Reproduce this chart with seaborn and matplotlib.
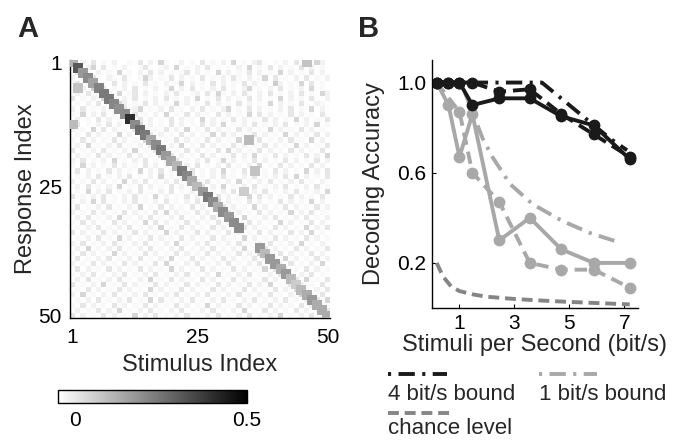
import numpy as np
import matplotlib
matplotlib.use("Agg")
import matplotlib.pyplot as plt
from matplotlib.lines import Line2D
import seaborn as sns

# ---------------- Panel A data ----------------
# diagonal (stimulus i -> response i) values; None = no diagonal entry
DIAG = [0.12, 0.31, 0.17, 0.20, 0.15, 0.22, 0.24, 0.24, 0.21, 0.19,
        0.20, 0.40, 0.20, 0.27, 0.24, 0.14, 0.20, 0.24, 0.17, 0.14,
        0.11, 0.24, 0.21, 0.13, 0.10, 0.17, 0.24, 0.20, 0.13, 0.20,
        0.17, 0.20, 0.20, None, None, None, 0.17, 0.10, 0.17, 0.17,
        0.13, 0.17, 0.10, 0.06, 0.10, 0.13, 0.17, 0.13, 0.13, 0.13]
# isolated off-diagonal responses (1-based response row, stimulus col)
EXTRA_ROWS = [1, 6, 13, 16, 22, 26]
EXTRA_COLS = [46, 2, 1, 35, 36, 34]
EXTRA_VALS = [0.08, 0.08, 0.10, 0.10, 0.08, 0.06]
# off-diagonal background: digit -> level
NOISE_LEVELS = [-0.05, -0.045, -0.035, -0.02, 0.005, 0.04, 0.06]
NOISE_ROWS = [
    "2031402130 0214031520 1302041203 0512034102 1304021530",
    "1203504120 3102410230 5021304120 2031502140 3120403120",
    "0412031205 1203041302 1240312051 3021403120 5130204130",
    "3120410320 4102530214 0312041203 1420312504 1203140213",
    "1402302140 3120412031 2503120413 0214031206 3021504120",
    "2130614021 3041203125 0314021304 1203512031 4021305120",
    "0314021305 1240312031 4102304152 0314203140 2130412053",
    "4021305120 3140213041 2031502140 3120413021 5031204103",
    "1203140215 3021403120 5130214031 2041302150 3120410321",
    "3041203120 4135021304 1203140213 5021403120 3140215031",
    "2150314021 3041203150 2140312041 3021504130 2140312041",
    "0312041302 1504130214 0312051302 1403120413 0215031204",
    "1402130413 0215031204 1302140315 0213041203 1402130512",
    "3120514031 2041302140 3150214031 2041302150 3120413021",
    "0214031205 1302140312 0413021504 1302140312 0513021403",
    "2041302140 3120513021 4031204130 2150314021 3041205130",
    "1305120314 0213041203 1502140312 0413021403 1205130214",
    "4021304120 3150214031 2041302140 5130214031 2041302140",
    "0312041302 1403120514 0312041302 1403150214 0312041305",
    "3140213051 2031402130 4120314025 1302140312 0413021403",
    "2051302140 3120413021 5031402130 4120315021 4031204130",
    "1403120413 0215031402 1304120315 0214031204 1302150314",
    "0213041203 1402130512 0314021304 1203140213 0415031204",
    "3120413021 5031402130 4120314021 3051203140 2130412031",
    "1304120315 0214031204 1302140315 0213041203 1402130412",
    "0215031402 1304120314 0213051203 1402130412 0314021305",
    "4120314021 3041205130 2140312041 3021504130 2140312041",
    "2031504120 3140213041 2031402150 3120413021 4031205130",
    "1402130412 0315021403 1204130214 0312051302 1403120413",
    "3120413021 4031204150 3120413021 4031204130 2150314021",
    "0314021305 1203140213 0412031402 1305120314 0213041203",
    "2140312041 3021504130 2140312041 3021403120 5130214031",
    "1203140213 0412031502 1403120413 0214031204 1302150314",
    "4031204130 2140312051 3021403120 4130214031 2041305120",
    "0213041205 1302140312 0413021403 1205130214 0312041302",
    "3140213041 2031402130 5120314021 3041203140 2130512031",
    "1305120314 0213041203 1402130412 0315021403 1204130214",
    "2041302150 3120413021 4031204130 2140315021 4031204130",
    "0412031402 1304120315 0214031204 1302140312 0513021403",
    "3021403120 4130214051 2031402130 4120314021 3041203150",
    "1403120413 0214031205 1302140312 0413021504 1302140312",
    "2130412031 4021304120 3140213051 2031402130 4120314021",
    "0314021304 1203150214 0312041302 1403120413 0214051204",
    "4120315021 4031204130 2140312041 3021403150 2140312041",
    "1204130214 0312051302 1403120413 0214031204 1305120314",
    "3051203140 2130412031 4021304120 3140213041 2031502140",
    "0213041203 1402150412 0314021304 1203140213 0412031405",
    "2140312041 3021403120 4130215031 2041302140 3120413021",
    "1302140315 0213041203 1402130412 0315021403 1204130214",
    "4031204130 2150314021 3041203140 2130412031 5021304120",
]
A_TICKS = ["1", "25", "50"]
CBAR_TICKS = [0, 0.5]
CBAR_TICKLABELS = ["0", "0.5"]

# ---------------- Panel B data ----------------
X_RATES = [0.17, 0.6, 1.0, 1.47, 2.45, 3.56, 4.71, 5.89, 7.2]
BLACK_SOLID = [1.0, 1.0, 1.0, 0.90, 0.93, 0.93, 0.85, 0.81, 0.66]
BLACK_DASHED = [1.0, 1.0, 1.0, 1.0, 0.96, 0.97, 0.86, 0.77, 0.67]
GRAY_SOLID = [1.0, 0.90, 0.67, 0.86, 0.30, 0.40, 0.26, 0.20, 0.20]
X_GRAY_DASHED = [0.17, 1.0, 1.47, 2.45, 3.56, 4.71, 5.89, 7.2]
GRAY_DASHED = [1.0, 0.87, 0.60, 0.47, 0.20, 0.17, 0.17, 0.09]
X_BOUND4 = [0.2, 1.0, 2.0, 3.0, 4.0, 4.5, 5.0, 5.5, 6.0, 6.5, 7.1]
BOUND4 = [1.0, 1.0, 1.0, 1.0, 1.0, 0.95, 0.90, 0.85, 0.80, 0.75, 0.70]
X_BOUND1 = [0.2, 0.6, 1.0, 1.25, 1.5, 1.85, 2.2, 2.84, 3.67, 4.76, 5.75, 6.84]
BOUND1 = [1.0, 1.0, 1.0, 0.94, 0.86, 0.75, 0.67, 0.55, 0.46, 0.385, 0.333, 0.29]
X_CHANCE = [0.17, 0.4, 0.7, 1.0, 1.5, 2.0, 3.0, 4.0, 5.0, 6.0, 7.2]
CHANCE = [0.20, 0.14, 0.095, 0.075, 0.06, 0.05, 0.04, 0.033, 0.027, 0.022, 0.016]
B_XTICKS = [1, 3, 5, 7]
B_YTICKS = [0.2, 0.6, 1.0]
LEGEND_LABELS = ["4 bit/s bound", "1 bit/s bound", "chance level"]

# ---------------- style ----------------
sns.set_theme(style="white")
plt.rcParams["font.family"] = ["Liberation Sans", "DejaVu Sans"]
BLACK = "#1a1a1a"
LGRAY = "#a8a8a8"
MGRAY = "#858585"
DASHDOT = (0, (4.2, 1.9, 0.8, 1.9))
DASHDOT_LEG = (6.1, (4.2, 1.9, 0.8, 1.9))
DASHED = (0, (3.2, 1.8))
CHANCE_DASH = (0, (2.8, 1.5))
CMAP = "gray_r"
VMIN, VMAX = -0.05, 0.5

fig = plt.figure(figsize=(6.84, 4.40), dpi=100)

# ---------- Panel A ----------
n = len(NOISE_ROWS)
M = np.array([[NOISE_LEVELS[int(c)]
               for c in (r.replace(" ", "") + "0" * n)[:n]] for r in NOISE_ROWS])
diag_idx = [i for i, v in enumerate(DIAG) if v is not None]
diag_val = [DIAG[i] for i in diag_idx]
for i, v in zip(diag_idx, diag_val):
    M[i, i] = v
for r, c, v in zip(EXTRA_ROWS, EXTRA_COLS, EXTRA_VALS):
    M[r - 1, c - 1] = v

axA = fig.add_axes([70 / 684, 1 - 318 / 440, 260 / 684, 258 / 440])
cax = fig.add_axes([58 / 684, 1 - 403 / 440, 189 / 684, 13 / 440])
sns.heatmap(M, ax=axA, cmap=CMAP, vmin=VMIN, vmax=VMAX, cbar_ax=cax,
            cbar_kws={"orientation": "horizontal", "ticks": CBAR_TICKS},
            xticklabels=False, yticklabels=False)
# strong entries appear as enlarged blocks in the original rendering
sq_x = [i + 0.5 for i in diag_idx] + [c - 0.5 for c in EXTRA_COLS]
sq_y = [i + 0.5 for i in diag_idx] + [r - 0.5 for r in EXTRA_ROWS]
sq_v = diag_val + EXTRA_VALS
sns.scatterplot(x=sq_x, y=sq_y, hue=sq_v, palette=CMAP, hue_norm=(VMIN, VMAX),
                marker="s", s=50, linewidth=0, legend=False, ax=axA, zorder=3)
axA.set_xlim(0, n)
axA.set_ylim(n, 0)
axA.set_xticks([0.5, n / 2 - 0.5, n - 0.5])
axA.set_xticklabels(A_TICKS)
axA.set_yticks([0.5, n / 2 - 0.5, n - 0.5])
axA.set_yticklabels(A_TICKS, rotation=0)
axA.tick_params(direction="in", length=3, width=0.8, labelsize=15,
                bottom=True, left=True, colors="black")
axA.tick_params(axis="x", pad=7)
axA.tick_params(axis="y", pad=6)
for s in ["left", "bottom"]:
    axA.spines[s].set_visible(True)
    axA.spines[s].set_color("black")
    axA.spines[s].set_linewidth(1.0)
for s in ["top", "right"]:
    axA.spines[s].set_visible(False)
axA.set_xlabel("Stimulus Index", fontsize=17, labelpad=5, visible=True)
axA.set_ylabel("Response Index", fontsize=17, labelpad=1, visible=True)

cbar = axA.collections[0].colorbar
cbar.set_ticks(CBAR_TICKS)
cbar.set_ticklabels(CBAR_TICKLABELS)
cbar.outline.set_edgecolor("black")
cbar.outline.set_linewidth(1.0)
cbar.ax.tick_params(direction="in", length=3, width=0.8, labelsize=15,
                    bottom=True, top=False, pad=6, colors="black")

# ---------- Panel B ----------
axB = fig.add_axes([432 / 684, 1 - 308 / 440, 206 / 684, 248 / 440])
lw = 2.8
ms = 8.5
sns.lineplot(x=X_CHANCE, y=CHANCE, ax=axB, color=MGRAY, lw=lw, linestyle=CHANCE_DASH)
sns.lineplot(x=X_BOUND1, y=BOUND1, ax=axB, color=LGRAY, lw=lw, linestyle=DASHDOT)
sns.lineplot(x=X_GRAY_DASHED, y=GRAY_DASHED, ax=axB, color=LGRAY, lw=lw,
             linestyle=DASHED, marker="o", markersize=ms, markeredgewidth=0)
sns.lineplot(x=X_RATES, y=GRAY_SOLID, ax=axB, color=LGRAY, lw=lw,
             marker="o", markersize=ms, markeredgewidth=0)
sns.lineplot(x=X_BOUND4, y=BOUND4, ax=axB, color=BLACK, lw=lw, linestyle=DASHDOT)
sns.lineplot(x=X_RATES, y=BLACK_DASHED, ax=axB, color=BLACK, lw=lw,
             linestyle=DASHED, marker="o", markersize=ms, markeredgewidth=0)
sns.lineplot(x=X_RATES, y=BLACK_SOLID, ax=axB, color=BLACK, lw=lw,
             marker="o", markersize=ms, markeredgewidth=0)
axB.set_xlim(0, 7.5)
axB.set_ylim(0, 1.1)
axB.set_xticks(B_XTICKS)
axB.set_xticklabels([str(t) for t in B_XTICKS])
axB.set_yticks(B_YTICKS)
axB.set_yticklabels([f"{t:.1f}" for t in B_YTICKS])
axB.tick_params(direction="in", length=3, width=0.8, labelsize=15, pad=4,
                bottom=True, left=True, colors="black")
sns.despine(ax=axB)
for s in ["left", "bottom"]:
    axB.spines[s].set_color("black")
    axB.spines[s].set_linewidth(1.0)
axB.set_xlabel("Stimuli per Second (bit/s)", fontsize=17, labelpad=1, visible=True)
axB.set_ylabel("Decoding Accuracy", fontsize=17, labelpad=9, visible=True)

# ---------- legend (sample line above each label) ----------
def legend_entry(x0, x1, y_line, y_base, color, ls, label):
    fig.add_artist(Line2D([x0 / 684, x1 / 684], [1 - y_line / 440] * 2,
                          transform=fig.transFigure, color=color, lw=lw, linestyle=ls))
    fig.text(x0 / 684, 1 - y_base / 440, label, fontsize=16, va="baseline", ha="left")

legend_entry(388, 447, 374, 400, BLACK, DASHDOT_LEG, LEGEND_LABELS[0])
legend_entry(539, 597, 374, 400, LGRAY, DASHDOT_LEG, LEGEND_LABELS[1])
legend_entry(388, 450, 413, 434, MGRAY, CHANCE_DASH, LEGEND_LABELS[2])

# panel letters
fig.text(17 / 684, 1 - 37 / 440, "A", fontsize=21, fontweight="bold", va="baseline")
fig.text(358 / 684, 1 - 37 / 440, "B", fontsize=21, fontweight="bold", va="baseline")

fig.savefig("out.png", dpi=100)
